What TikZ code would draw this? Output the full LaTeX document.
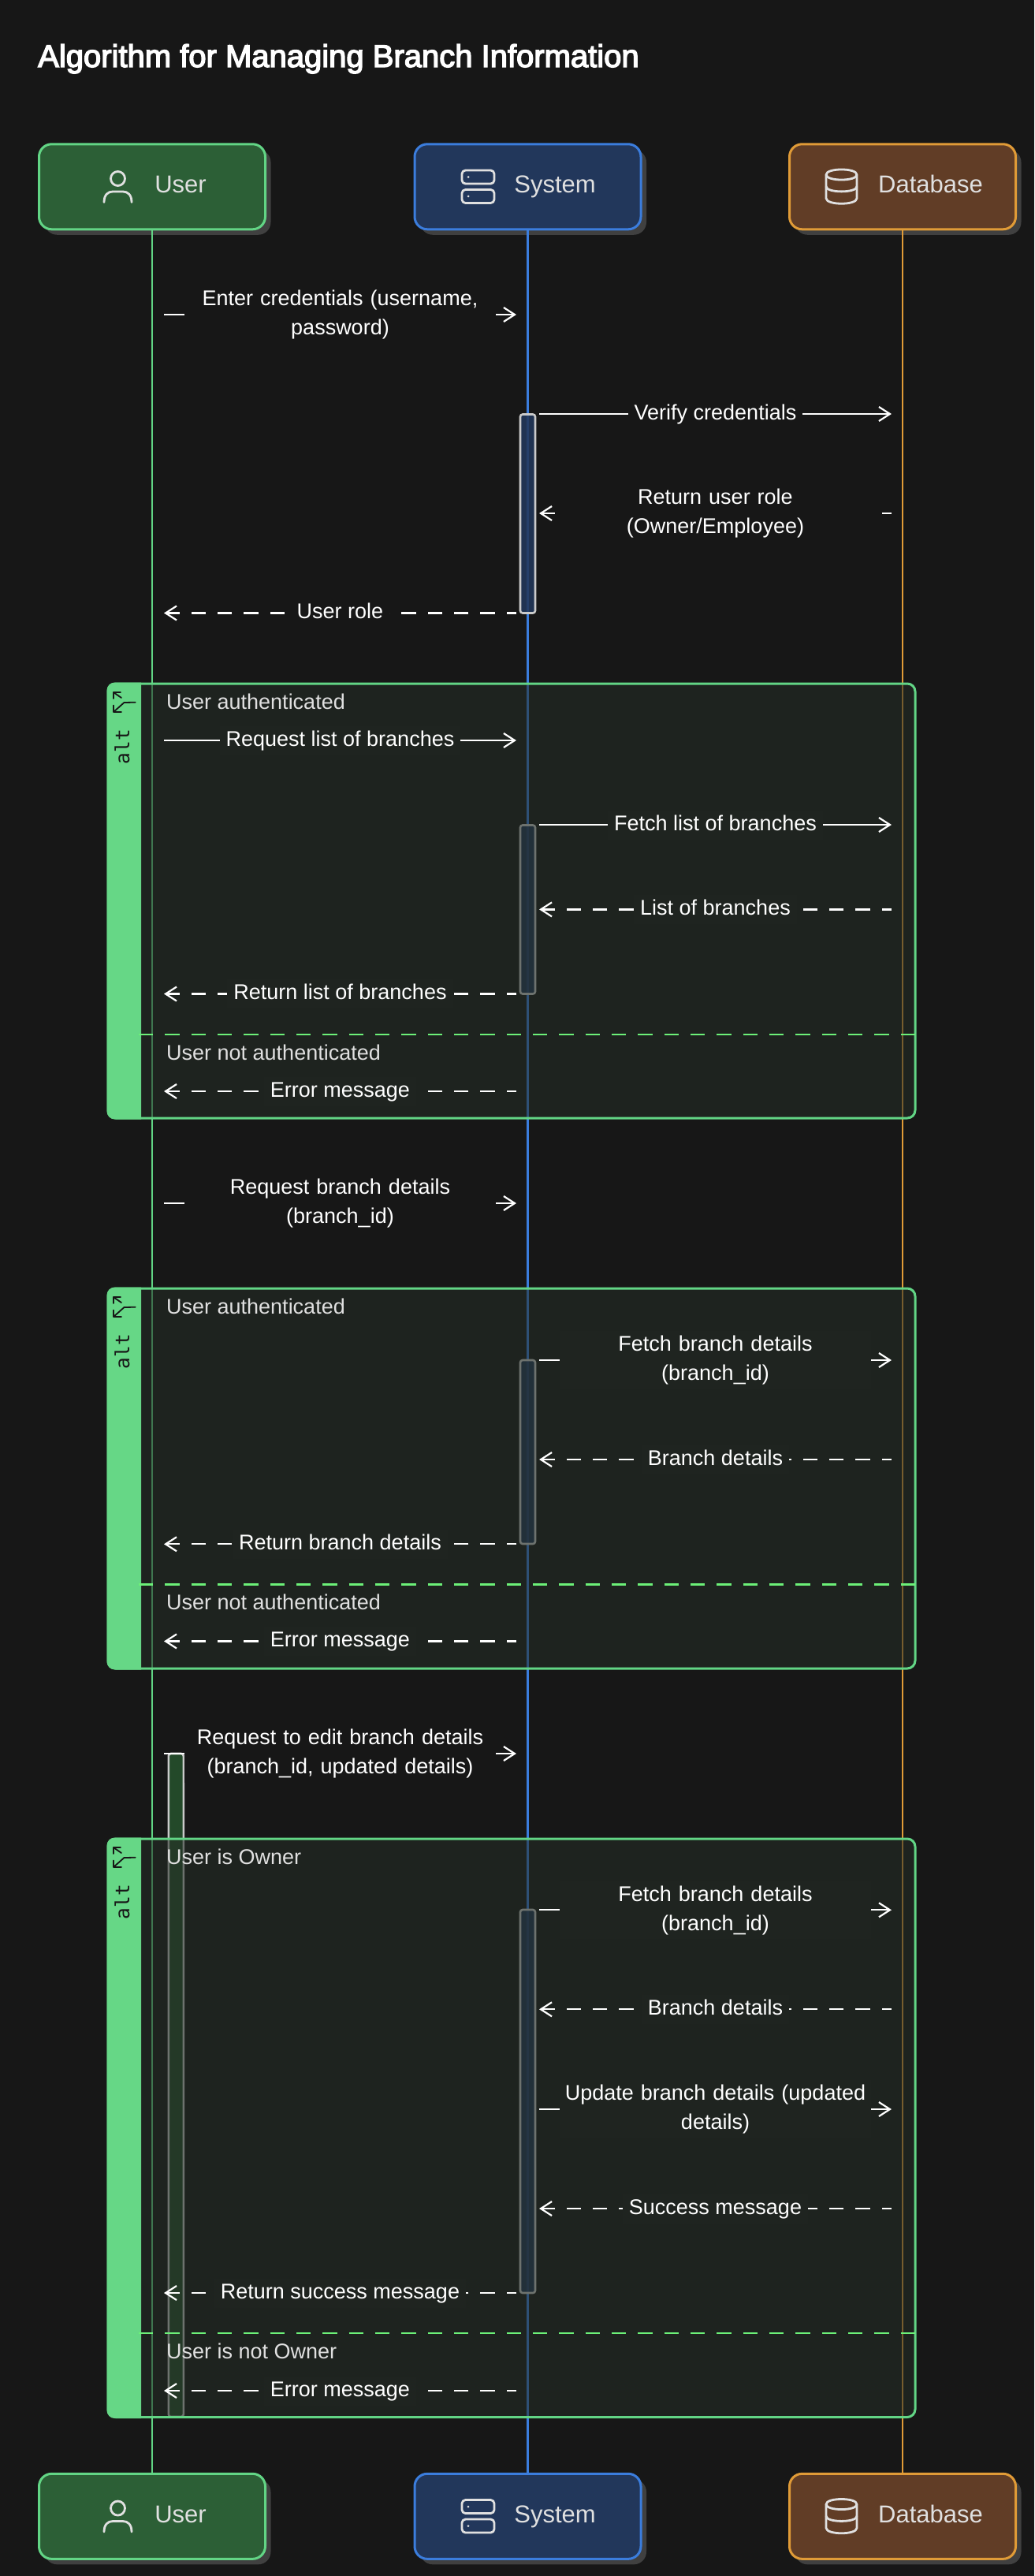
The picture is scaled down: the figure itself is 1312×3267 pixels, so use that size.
\documentclass[tikz,border=0pt]{standalone}
\usepackage{fontspec}
\setmainfont{Liberation Sans}
\newfontfamily\altmono{DejaVu Sans Mono}
\newfontfamily\titlefont[FakeBold=3.5]{Liberation Sans}
\usetikzlibrary{arrows.meta,shadows}
\definecolor{bgc}{HTML}{171717}
\definecolor{framein}{HTML}{1F2420}
\definecolor{framefill}{RGB}{37,46,39}
\definecolor{gline}{HTML}{62D585}
\definecolor{gband}{HTML}{66D786}
\definecolor{gdash}{HTML}{6CF078}
\definecolor{bline}{HTML}{3B7DDD}
\definecolor{oline}{HTML}{E09B37}
\definecolor{gfill}{HTML}{2C5F36}
\definecolor{bfill}{HTML}{22375B}
\definecolor{ofill}{HTML}{613D26}
\definecolor{shadowc}{HTML}{404040}
\definecolor{softw}{HTML}{E0E0E0}
\definecolor{actg}{HTML}{25502C}
\tikzset{
  actor/.style={draw=#1,line width=3pt,rounded corners=16pt,minimum width=287pt,minimum height=108pt,inner sep=0pt,
    text=softw,font=\fontsize{31}{37}\selectfont,text height=22pt,text depth=6pt,
    drop shadow={shadow xshift=7pt,shadow yshift=-7pt,fill=shadowc,opacity=1}},
  life/.style={draw=#1,line width=2.2pt},
  activation/.style={draw=softw!90!black,line width=2.6pt,rounded corners=3pt,fill=#1,fill opacity=.88,minimum width=19pt,inner sep=0pt},
  icon/.style={draw=softw,line width=2.8pt,line cap=round,line join=round},
  msg/.style={draw=white,line width=2.2pt,-{Straight Barb[length=14pt,width=18pt,line width=2.2pt]}},
  reply/.style={msg,dash pattern=on 18.33pt off 15pt,dash phase=6pt},
  lbl/.style={fill=#1,text=white,inner xsep=8pt,inner ysep=0pt,font=\fontsize{27}{37}\selectfont},
  wrapped/.style={text width=395pt,inner xsep=0pt,align=center},
  altframe/.style={draw=gline,line width=3pt,fill=framefill,fill opacity=.56,rounded corners=10pt},
  altband/.style={fill=gband},
  altsep/.style={draw=gdash,line width=2.8pt,dash pattern=on 18.33pt off 15pt},
  alttext/.style={rotate=90,text=bgc,inner sep=0pt,font=\altmono\fontsize{24.5}{30}\selectfont},
  altglyph/.style={draw=bgc,line width=1.8pt,line cap=round,line join=round},
  cond/.style={anchor=base west,inner sep=0pt,text=softw,font=\fontsize{27}{37}\selectfont},
  titletext/.style={anchor=base west,inner sep=0pt,text=white,font=\titlefont\fontsize{40}{48}\selectfont}
}
\newcommand{\personicon}{%
  \draw[icon] (149.5,226.5) circle [radius=9];
  \draw[icon] (132,256.5) .. controls (132,247) and (137,243) .. (143,243) -- (156,243) .. controls (162,243) and (167,247) .. (167,256.5);
}
\newcommand{\servericon}{%
  \draw[icon,rounded corners=4.5pt] (586,216) rectangle (627,233);
  \draw[icon,rounded corners=4.5pt] (586,240.5) rectangle (627,257.5);
  \fill[softw] (594,224.5) circle [radius=1.5];
  \fill[softw] (594,249) circle [radius=1.5];
}
\newcommand{\dbicon}{%
  \draw[icon] (1048,221.5) .. controls (1048,212.8) and (1087,212.8) .. (1087,221.5) .. controls (1087,230.2) and (1048,230.2) .. cycle;
  \draw[icon] (1048,221.5) -- (1048,251.5) .. controls (1048,260.5) and (1087,260.5) .. (1087,251.5) -- (1087,221.5);
  \draw[icon] (1048,236.5) .. controls (1048,245) and (1087,245) .. (1087,236.5);
}
% name, top, bottom, separator y
\newcommand{\altbox}[4]{%
  \draw[altframe] (137,#2) rectangle (1161,#3);
  \fill[altband] (179,#2-1.5) [rounded corners=10pt] -- (135.5,#2-1.5) -- (135.5,#3+1.5) [sharp corners] -- (179,#3+1.5) -- cycle;
  \draw[altsep] (176,#4) -- (1161,#4);
  \node[alttext] (#1) at (155,#2+80) {alt};
  \begin{scope}[shift={(0,#2-867)}]
    \draw[altglyph] (153,878.3) -- (144.3,878.3) -- (144.3,886);
    \draw[altglyph] (144.3,878.3) -- (154,885);
    \draw[altglyph] (154,902.7) -- (144.3,902.7) -- (144.3,894.5);
    \draw[altglyph] (144.3,902.7) -- (157.5,891) -- (171.8,890.7);
  \end{scope}
}
% name, path style, x1, x2, y, label style, text
\newcommand{\seqmsg}[7]{%
  \coordinate (#1s) at (#3,#5);
  \coordinate (#1e) at (#4,#5);
  \draw[#2] (#1s) -- (#1e) node[midway,#6] (#1l) {#7};
}
\begin{document}
\begin{tikzpicture}[x=1pt,y=-1pt]
\useasboundingbox (0,0) rectangle (1312,3267);
\fill[bgc] (0,0) rectangle (1312,3267);
\node[titletext] (title) at (48,85) {Algorithm for Managing Branch Information};

% actors
\node[actor=gline,fill=gfill] (ut) at (193,236.8) {\hspace*{72pt}User};
\node[actor=bline,fill=bfill] (st) at (669.5,236.8) {\hspace*{69pt}System};
\node[actor=oline,fill=ofill] (dt) at (1145,236.8) {\hspace*{71pt}Database};
\node[actor=gline,fill=gfill] (ub) at (193,3191.3) {\hspace*{72pt}User};
\node[actor=bline,fill=bfill] (sb) at (669.5,3191.3) {\hspace*{69pt}System};
\node[actor=oline,fill=ofill] (db) at (1145,3191.3) {\hspace*{71pt}Database};
\personicon \servericon \dbicon
\begin{scope}[shift={(0,2954.5)}]
  \personicon \servericon \dbicon
\end{scope}

% lifelines
\draw[life=gline] (ut.south) -- (ub.north);
\draw[life=bline] (st.south) -- (sb.north);
\draw[life=oline] (dt.south) -- (db.north);

% activations
\node[activation=bfill,minimum height=252pt] (a1) at (669.5,651.5) {};
\node[activation=bfill,minimum height=214pt] (a2) at (669.5,1153.5) {};
\node[activation=bfill,minimum height=233pt] (a3) at (669.5,1841.5) {};
\node[activation=bfill,minimum height=486pt] (a4) at (669.5,2665) {};
\node[activation=actg,minimum height=841pt] (a5) at (223.3,2644.5) {};

% frames
\altbox{alt1}{867}{1418}{1312}
\altbox{alt2}{1634}{2116}{2009.3}
\altbox{alt3}{2332}{3065.5}{2959}
\node[cond] (c1) at (211,899) {User authenticated};
\node[cond] (c2) at (211,1344.3) {User not authenticated};
\node[cond] (c3) at (211,1666) {User authenticated};
\node[cond] (c4) at (211,2041.7) {User not authenticated};
\node[cond] (c5) at (211,2364) {User is Owner};
\node[cond] (c6) at (211,2991.7) {User is not Owner};

% messages
\seqmsg{m1}{msg}{208}{655}{399}{lbl=bgc,wrapped}{\strut Enter credentials (username,\\password)\strut}
\seqmsg{m2}{msg}{684}{1131}{525}{lbl=bgc}{\strut Verify credentials}
\seqmsg{m3}{reply}{1131}{684}{651}{lbl=bgc,wrapped}{\strut Return user role\\(Owner/Employee)\strut}
\seqmsg{m4}{reply}{655}{208}{777.5}{lbl=bgc}{\strut User role}
\seqmsg{m5}{msg}{208}{655}{939}{lbl=framein}{\strut Request list of branches}
\seqmsg{m6}{msg}{684}{1131}{1046}{lbl=framein}{\strut Fetch list of branches}
\seqmsg{m7}{reply}{1131}{684}{1153.4}{lbl=framein}{\strut List of branches}
\seqmsg{m8}{reply}{655}{208}{1260.5}{lbl=framein}{\strut Return list of branches}
\seqmsg{m9}{reply}{655}{208}{1384}{lbl=framein}{\strut Error message}
\seqmsg{m10}{msg}{208}{655}{1526}{lbl=bgc,wrapped}{\strut Request branch details\\(branch\_id)\strut}
\seqmsg{m11}{msg}{684}{1131}{1725}{lbl=framein,wrapped}{\strut Fetch branch details\\(branch\_id)\strut}
\seqmsg{m12}{reply}{1131}{684}{1851}{lbl=framein}{\strut Branch details}
\seqmsg{m13}{reply}{655}{208}{1958.3}{lbl=framein}{\strut Return branch details}
\seqmsg{m14}{reply}{655}{208}{2081.5}{lbl=framein}{\strut Error message}
\seqmsg{m15}{msg}{208}{655}{2224}{lbl=bgc,wrapped}{\strut Request to edit branch details\\(branch\_id, updated details)\strut}
\seqmsg{m16}{msg}{684}{1131}{2422.3}{lbl=framein,wrapped}{\strut Fetch branch details\\(branch\_id)\strut}
\seqmsg{m17}{reply}{1131}{684}{2548.3}{lbl=framein}{\strut Branch details}
\seqmsg{m18}{msg}{684}{1131}{2675}{lbl=framein,wrapped}{\strut Update branch details (updated\\details)\strut}
\seqmsg{m19}{reply}{1131}{684}{2801}{lbl=framein}{\strut Success message}
\seqmsg{m20}{reply}{655}{208}{2908}{lbl=framein}{\strut Return success message}
\seqmsg{m21}{reply}{655}{208}{3032}{lbl=framein}{\strut Error message}
\end{tikzpicture}
\end{document}
